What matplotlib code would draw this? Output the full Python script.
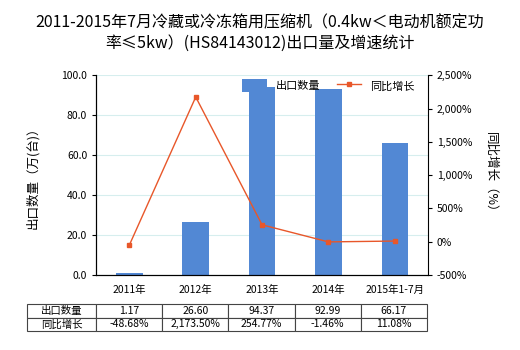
import numpy as np
import matplotlib
matplotlib.use("Agg")
import matplotlib.pyplot as plt
from matplotlib.ticker import FuncFormatter, MultipleLocator

plt.rcParams['font.family'] = ['Noto Sans CJK SC', 'DejaVu Sans']

categories = ['2011年', '2012年', '2013年', '2014年', '2015年1-7月']
export_qty = [1.17, 26.60, 94.37, 92.99, 66.17]
growth = [-48.68, 2173.50, 254.77, -1.46, 11.08]
qty_labels = ['1.17', '26.60', '94.37', '92.99', '66.17']
growth_labels = ['-48.68%', '2,173.50%', '254.77%', '-1.46%', '11.08%']

bar_color = '#5288d4'
line_color = '#e8572a'

fig = plt.figure(figsize=(5.2, 3.5), dpi=100)
ax = fig.add_axes([0.185, 0.214, 0.638, 0.571])
x = np.arange(len(categories))

ax.bar(x, export_qty, width=0.4, color=bar_color, zorder=2, label='出口数量')
ax.set_ylim(0, 100)
ax.set_xlim(-0.5, len(categories) - 0.5)
ax.yaxis.set_major_locator(MultipleLocator(20))
ax.yaxis.set_major_formatter(FuncFormatter(lambda v, p: f'{v:.1f}'))
ax.grid(axis='y', color='#d6eeee', linewidth=0.8, zorder=0)
ax.set_xticks(x)
ax.set_xticklabels(categories)
ax.tick_params(axis='both', labelsize=7.5, length=3)
ax.tick_params(axis='x', length=0, pad=7)
ax.set_ylabel('出口数量（万(台)）', fontsize=9, labelpad=16)
for s in ['top', 'right']:
    ax.spines[s].set_visible(False)

ax2 = ax.twinx()
ax2.plot(x, growth, color=line_color, linewidth=1.0, marker='s', markersize=3, label='同比增长')
ax2.set_ylim(-500, 2500)
ax2.yaxis.set_major_locator(MultipleLocator(500))
ax2.yaxis.set_major_formatter(FuncFormatter(lambda v, p: f'{v:,.0f}%'))
ax2.tick_params(axis='y', labelsize=7.5, length=3)
ax2.set_ylabel('同比增长（%）', fontsize=9, rotation=270, labelpad=18)
ax2.spines['top'].set_visible(False)

h1, l1 = ax.get_legend_handles_labels()
h2, l2 = ax2.get_legend_handles_labels()
ax2.legend(h1 + h2, l1 + l2, loc='upper center', bbox_to_anchor=(0.7, 1.03), ncol=2,
           frameon=False, fontsize=8, handlelength=2.2, handleheight=1.4,
           columnspacing=1.5)

fig.text(0.5, 0.905, '2011-2015年7月冷藏或冷冻箱用压缩机（0.4kw＜电动机额定功\n率≤5kw）(HS84143012)出口量及增速统计',
         ha='center', va='center', fontsize=11.5, linespacing=1.3)

cell_text = [['出口数量'] + qty_labels, ['同比增长'] + growth_labels]
tbl = ax.table(cellText=cell_text, cellLoc='center',
               colWidths=[69 / 400] + [66.2 / 400] * 5,
               bbox=[-0.208, -0.28, 1.205, 0.135])
tbl.auto_set_font_size(False)
tbl.set_fontsize(7.5)
for (r, c), cell in tbl.get_celld().items():
    cell.set_edgecolor('#444444')
    cell.set_linewidth(0.8)
    if c == 0:
        cell._loc = 'left'
        cell.PAD = 0.03

fig.savefig('out.png', dpi=100)
